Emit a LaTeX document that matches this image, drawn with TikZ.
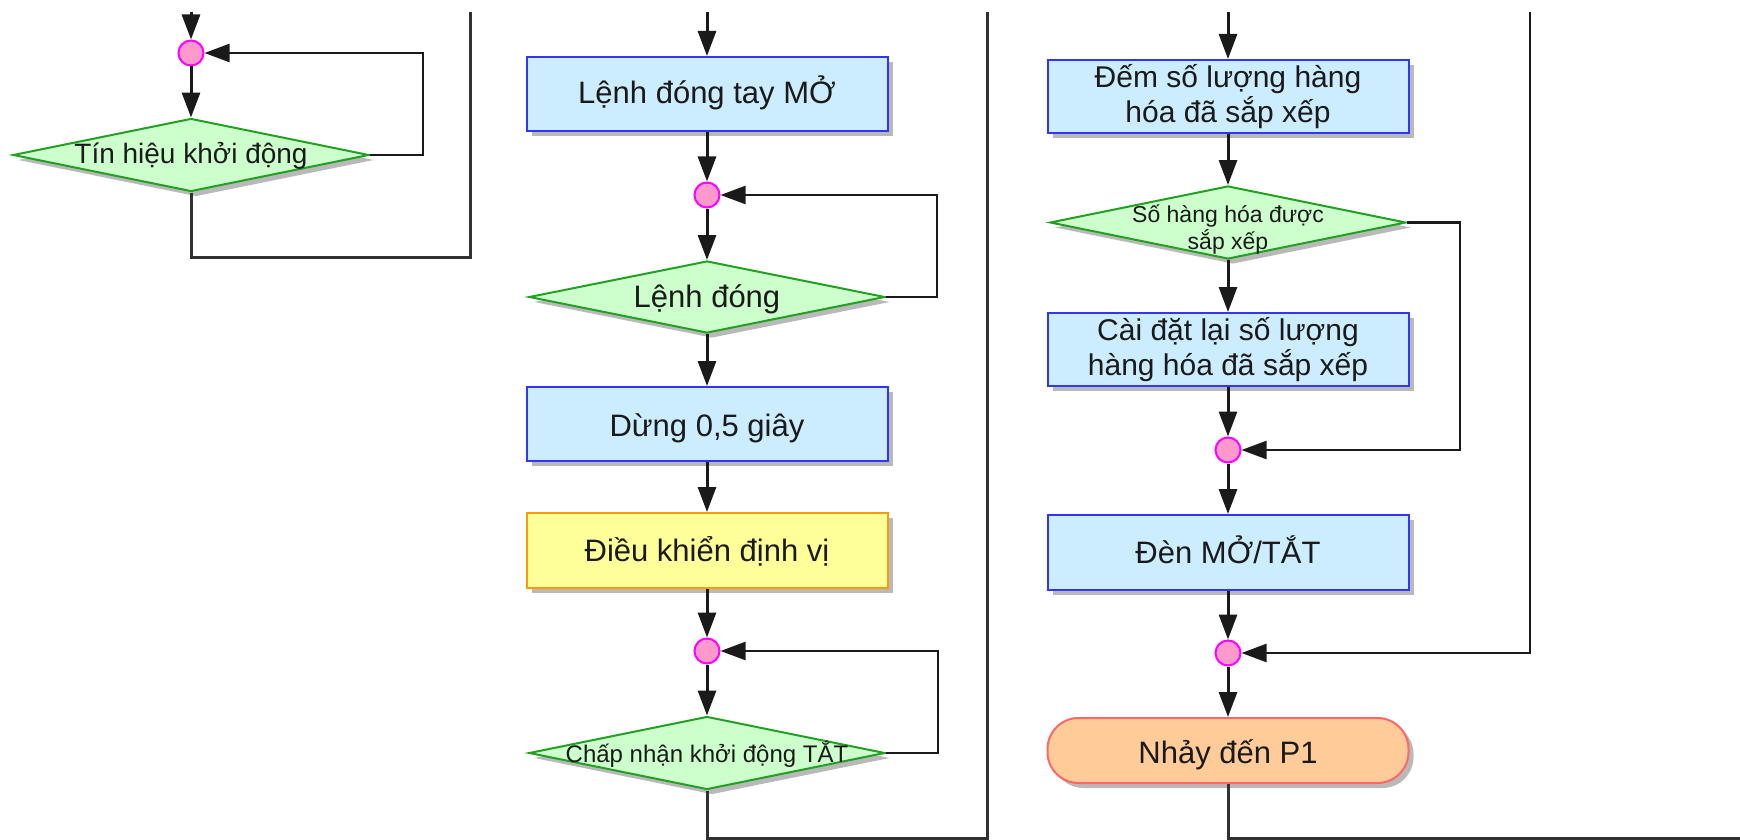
\documentclass[tikz,border=0pt]{standalone}
\usepackage{fontspec}
\setmainfont{Liberation Sans}
\usetikzlibrary{arrows.meta,shapes.geometric,shadows}
\definecolor{boxfill}{HTML}{CCECFF}
\definecolor{boxdraw}{HTML}{3333FF}
\definecolor{yfill}{HTML}{FFFF99}
\definecolor{ydraw}{HTML}{FF9900}
\definecolor{dfill}{HTML}{CCFFCC}
\definecolor{ddraw}{HTML}{22A022}
\definecolor{jfill}{HTML}{FF99CC}
\definecolor{jdraw}{HTML}{FF00FF}
\definecolor{tfill}{HTML}{FFCC99}
\definecolor{tdraw}{HTML}{FF6666}
\definecolor{ln}{HTML}{1A1A1A}
\begin{document}
\begin{tikzpicture}[x=1pt,y=-1pt,
  shad/.style={drop shadow={shadow xshift=5pt,shadow yshift=-5pt,fill=black!50,opacity=0.55}},
  proc/.style={rectangle, draw=boxdraw, fill=boxfill, line width=2pt, minimum width=361pt,
    minimum height=74pt, inner sep=0pt, align=center, text=ln,
    font=\fontsize{31}{35}\selectfont, shad},
  one/.style={text height=22pt, text depth=0pt},
  ctrl/.style={proc, draw=ydraw, fill=yfill},
  term/.style={proc, draw=tdraw, fill=tfill, rounded corners=31pt, minimum height=65pt},
  dshape/.style={diamond, draw=ddraw, fill=dfill, line width=2pt, inner sep=0pt,
    minimum width=356pt, minimum height=73pt, shad},
  dtext/.style={inner sep=0pt, align=center, text=ln},
  junc/.style={circle, draw=jdraw, fill=jfill, line width=2pt, minimum size=25pt, inner sep=0pt},
  flow/.style={draw=ln, line width=3pt, -{Triangle[length=25pt,width=18pt]}},
  loopl/.style={draw=ln, line width=2.4pt, -{Triangle[length=25pt,width=18pt]}},
  frame/.style={draw=ln!90, line width=3pt}
]
\useasboundingbox (0,0) rectangle (1740,840);

% ---------- left column ----------
\coordinate (t1) at (191,12);
\node[junc] (c1) at (191,53) {};
\node[dshape] (d1) at (191,155) {};
\node[dtext, font=\fontsize{28}{32}\selectfont, text height=17pt, text depth=0pt] (d1t) at (d1) {Tín hiệu khởi động};
\coordinate (l1) at (423,155);
\coordinate (f1) at (470,257);
\coordinate (f1top) at (470,12);

\draw[flow] (t1) -- (c1);
\draw[flow] (c1) -- (d1);
\draw[loopl] (d1.east) -- (l1) |- (c1.east);
\draw[frame] (d1.south) |- (f1) -- (f1top);

% ---------- middle column ----------
\coordinate (t2) at (707,12);
\node[proc, one, text height=19pt] (b1) at (707,94) {Lệnh đóng tay MỞ};
\node[junc] (c2) at (707,195) {};
\node[dshape, minimum height=72pt] (d2) at (707,297) {};
\node[dtext, font=\fontsize{31}{35}\selectfont, text height=20pt, text depth=0pt] (d2t) at (d2) {Lệnh đóng};
\node[proc, one, text height=25pt] (b2) at (707,424) {Dừng 0,5 giây};
\node[ctrl, one, minimum height=75pt] (b3) at (707,550.5) {Điều khiển định vị};
\node[junc] (c3) at (707,651) {};
\node[dshape] (d3) at (707,753) {};
\node[dtext, font=\fontsize{24}{28}\selectfont, text height=18pt, text depth=0pt] (d3t) at (d3) {Chấp nhận khởi động TẮT};
\coordinate (l2) at (937,297);
\coordinate (l3) at (938,753);
\coordinate (f2) at (987,838);
\coordinate (f2top) at (987,12);

\draw[flow] (t2) -- (b1);
\draw[flow] (b1) -- (c2);
\draw[flow] (c2) -- (d2);
\draw[loopl] (d2.east) -- (l2) |- (c2.east);
\draw[flow] (d2) -- (b2);
\draw[flow] (b2) -- (b3);
\draw[flow] (b3) -- (c3);
\draw[flow] (c3) -- (d3);
\draw[loopl] (d3.east) -- (l3) |- (c3.east);
\draw[frame] (d3.south) |- (f2) -- (f2top);

% ---------- right column ----------
\coordinate (t3) at (1228,12);
\node[proc, minimum height=73pt, font=\fontsize{30}{35}\selectfont] (b4) at (1228,96.5) {Đếm số lượng hàng\\hóa đã sắp xếp};
\node[dshape] (d4) at (1228,222.5) {};
\node[dtext, font=\fontsize{23}{27}\selectfont] (d4t) at (1228,230) {Số hàng hóa được\\sắp xếp};
\node[proc, minimum height=73pt, font=\fontsize{30}{35}\selectfont] (b5) at (1228,349.5) {Cài đặt lại số lượng\\hàng hóa đã sắp xếp};
\node[junc] (c4) at (1228,450) {};
\node[proc, one, minimum height=75pt] (b6) at (1228,552.5) {Đèn MỞ/TẮT};
\node[junc] (c5) at (1228,653) {};
\node[term, one, text height=26pt] (p1) at (1228,750.5) {Nhảy đến P1};
\coordinate (l4) at (1460,222.5);
\coordinate (r5) at (1530,12);
\coordinate (f3) at (1740,838);

\draw[flow] (t3) -- (b4);
\draw[flow] (b4) -- (d4);
\draw[flow] (d4) -- (b5);
\draw[flow] (b5) -- (c4);
\draw[loopl] (d4.east) -- (l4) |- (c4.east);
\draw[flow] (c4) -- (b6);
\draw[flow] (b6) -- (c5);
\draw[loopl] (r5) |- (c5.east);
\draw[flow] (c5) -- (p1);
\draw[frame] (p1.south) |- (f3);
\end{tikzpicture}
\end{document}
